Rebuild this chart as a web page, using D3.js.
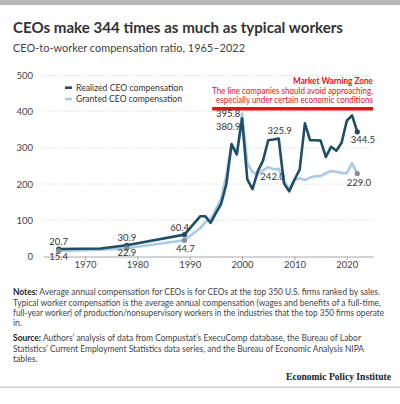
<!DOCTYPE html>
<html><head><meta charset="utf-8">
<script src="https://cdn.jsdelivr.net/npm/d3@7/dist/d3.min.js"></script>
<style>
body{margin:0;background:#fff;}
svg{display:block;font-family:Lato,"Open Sans",sans-serif;}
</style></head><body>
<svg id="chart" width="400" height="404"></svg>
<script>
const years = [1965,1973,1978,1989,1992,1993,1994,1995,1996,1997,1998,1999,2000,2001,2002,2003,2004,2005,2006,2007,2008,2009,2010,2011,2012,2013,2014,2015,2016,2017,2018,2019,2020,2021,2022];
const realized = [20.7,22.3,30.9,60.4,111,111,93,120,145,200,310,282,380.9,213,186,235,265,321,323,325.9,202,180,212,240,368,321,321,320,275,303,292,314,375,390,344.5];
const granted = [15.4,18.6,22.9,44.7,78,95,103,130,160,225,312,282,395.8,258,233,228,238,247,241,242.0,211,185,211,216,211,218,222,222,230,236,234,231,230,257,229.0];
const yTicks = [0,100,200,300,400,500];
const xTicks = [1970,1980,1990,2000,2010,2020];
const seriesNames = ["Realized CEO compensation","Granted CEO compensation"];
const dotYears = [1965,1978,1989,2022];
const realizedLabels = [[1965,"20.7"],[1978,"30.9"],[1989,"60.4"],[2000,"380.9"],[2007,"325.9"],[2022,"344.5"]];
const grantedLabels = [[1965,"15.4"],[1978,"22.9"],[1989,"44.7"],[2000,"395.8"],[2007,"242.0"],[2022,"229.0"]];
const warningValue = 408;
const warningStart = 1994.3;
const warningText = ["Market Warning Zone","The line companies should avoid approaching,","especially under certain economic conditions"];

const svg = d3.select("#chart");
const x = d3.scaleLinear().domain([1962,2025]).range([43,373]);
const y = d3.scaleLinear().domain([0,500]).range([256.5,75.5]);
const dark = "#1f4e66", light = "#a9cbe6", txt = "#333";

// top bar and bottom rule
svg.append("rect").attr("x",0).attr("y",0).attr("width",400).attr("height",5).attr("fill","#b8b8b8");
svg.append("rect").attr("x",0).attr("y",386.5).attr("width",400).attr("height",1.5).attr("fill","#cfcfcf");

// titles
svg.append("text").attr("x",13).attr("y",33).attr("font-size",15).attr("font-weight",700).attr("fill",txt)
  .attr("textLength",330).attr("lengthAdjust","spacingAndGlyphs")
  .text("CEOs make 344 times as much as typical workers");
svg.append("text").attr("x",13).attr("y",52).attr("font-size",11).attr("fill","#444")
  .attr("textLength",232).attr("lengthAdjust","spacingAndGlyphs")
  .text("CEO-to-worker compensation ratio, 1965–2022");

// gridlines
const g = svg.append("g");
g.selectAll("line.grid").data(yTicks.filter(d=>d>0)).join("line")
  .attr("x1",43).attr("x2",373).attr("y1",d=>y(d)).attr("y2",d=>y(d))
  .attr("stroke","#c8c8c8").attr("stroke-width",0.8).attr("stroke-dasharray","1,2");
// y labels
g.selectAll("text.yl").data(yTicks).join("text")
  .attr("x",33).attr("y",d=>y(d)+3.5).attr("text-anchor","end").attr("font-size",9.5).attr("fill","#444").text(d=>d);
// x axis
const xAxis = d3.axisBottom(x).tickValues(xTicks).tickFormat(d3.format("d")).tickSize(4).tickSizeOuter(0);
const ax = svg.append("g").attr("transform",`translate(0,${y(0)})`).call(xAxis);
ax.select(".domain").attr("stroke","#aaa");
ax.selectAll(".tick line").attr("stroke","#aaa");
ax.selectAll(".tick text").attr("font-size",9.5).attr("fill","#444").attr("font-family","Lato,'Open Sans',sans-serif").attr("dy","0.45em");

// warning zone
svg.append("line").attr("x1",x(warningStart)).attr("x2",x(2025)).attr("y1",y(warningValue)).attr("y2",y(warningValue))
  .attr("stroke","#e3131b").attr("stroke-width",3.5);
const wLen = [80,161,157];
warningText.forEach((t,i)=>{
  svg.append("text").attr("x",373).attr("y",84+i*9.5).attr("text-anchor","end")
    .attr("font-size",i===0?9.3:9).attr("font-weight",i===0?700:400).attr("fill","#e3131b")
    .attr("textLength",wLen[i]).attr("lengthAdjust","spacingAndGlyphs").text(t);
});

// lines
const line = d3.line().x((d,i)=>x(years[i])).y(d=>y(d));
svg.append("path").datum(granted).attr("d",line).attr("fill","none").attr("stroke",light).attr("stroke-width",2.6).attr("stroke-linejoin","round");
svg.append("path").datum(realized).attr("d",line).attr("fill","none").attr("stroke",dark).attr("stroke-width",2.6).attr("stroke-linejoin","round");

// dots
const idx = dotYears.map(yr=>years.indexOf(yr));
svg.selectAll("circle.r").data(idx).join("circle").attr("cx",i=>x(years[i])).attr("cy",i=>y(realized[i])).attr("r",2.6).attr("fill",dark);
svg.selectAll("circle.g").data(idx).join("circle").attr("cx",i=>x(years[i])).attr("cy",i=>y(granted[i])).attr("r",2.6).attr("fill","#8c8c8c");

// data labels
const rOff = {1965:[0,-4],1978:[0,-4.3],1989:[-4.7,-4],2000:[-14,11.6],2007:[1,-4.3],2022:[5.7,11.7]};
const gOff = {1965:[0,8.6],1978:[0,8],1989:[1,11.5],2000:[-14,3.6],2007:[-6.2,11.3],2022:[1.7,12.2]};
realizedLabels.forEach(([yr,t])=>{
  const i = years.indexOf(yr), o = rOff[yr];
  svg.append("text").attr("x",x(yr)+o[0]).attr("y",y(realized[i])+o[1]).attr("text-anchor","middle").attr("font-size",9.5).attr("fill",txt).text(t);
});
grantedLabels.forEach(([yr,t])=>{
  const i = years.indexOf(yr), o = gOff[yr];
  svg.append("text").attr("x",x(yr)+o[0]).attr("y",y(granted[i])+o[1]).attr("text-anchor","middle").attr("font-size",9.5).attr("fill",txt).text(t);
});

// legend
const legLen = [107,106];
[dark,light].forEach((c,i)=>{
  const yy = 87.7 + i*11.3;
  svg.append("line").attr("x1",65).attr("x2",72).attr("y1",yy).attr("y2",yy).attr("stroke",c).attr("stroke-width",2.6);
  svg.append("text").attr("x",76).attr("y",yy+3.3).attr("font-size",9.5).attr("fill",txt)
    .attr("textLength",legLen[i]).attr("lengthAdjust","spacingAndGlyphs").text(seriesNames[i]);
});

// notes
const notes = [
  [["Notes:",true],[" Average annual compensation for CEOs is for CEOs at the top 350 U.S. firms ranked by sales.",false]],
  [["Typical worker compensation is the average annual compensation (wages and benefits of a full-time,",false]],
  [["full-year worker) of production/nonsupervisory workers in the industries that the top 350 firms operate",false]],
  [["in.",false]]
];
const notesLen = [367,368,371,null];
const source = [
  [["Source:",true],[" Authors’ analysis of data from Compustat’s ExecuComp database, the Bureau of Labor",false]],
  [["Statistics’ Current Employment Statistics data series, and the Bureau of Economic Analysis NIPA",false]],
  [["tables.",false]]
];
const sourceLen = [348,351,null];
function block(lines,lens,y0){
  lines.forEach((parts,i)=>{
    const t = svg.append("text").attr("x",13).attr("y",y0+i*10.2).attr("font-size",8.6).attr("fill","#444");
    if(lens[i]) t.attr("textLength",lens[i]).attr("lengthAdjust","spacingAndGlyphs");
    parts.forEach(([s,b])=>t.append("tspan").attr("font-weight",b?700:400).attr("fill",b?"#222":"#444").text(s));
  });
}
block(notes,notesLen,295.3);
block(source,sourceLen,341.3);
svg.append("text").attr("x",391).attr("y",380).attr("text-anchor","end").attr("font-size",9.6).attr("font-weight",700)
  .attr("font-family","'Liberation Serif','DejaVu Serif',serif").attr("fill","#222")
  .text("Economic Policy Institute");
</script>
</body></html>
